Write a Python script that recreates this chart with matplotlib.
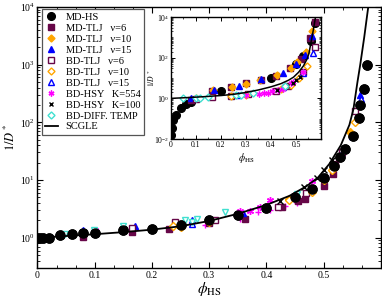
import matplotlib
matplotlib.use('Agg')
import matplotlib.pyplot as plt
from matplotlib.lines import Line2D
from matplotlib.ticker import MultipleLocator, LogLocator, NullFormatter

plt.rcParams['font.family'] = ['Liberation Serif', 'DejaVu Serif']
plt.rcParams['mathtext.fontset'] = 'stix'

# SCGLE theory curve
scgle_phi = [0, 0.05, 0.1, 0.15, 0.2, 0.25, 0.3, 0.35, 0.4, 0.44, 0.47, 0.49, 0.51,
             0.53, 0.545, 0.552, 0.559, 0.564, 0.571, 0.575, 0.578, 0.58]
scgle_val = [1.0, 1.07, 1.15, 1.25, 1.38, 1.58, 1.95, 2.6, 3.7, 5.3, 7.8, 11, 19,
             40, 90, 167, 490, 1000, 3000, 6000, 10000, 20000]

# main panel data
mdhs_phi = [0, 0.005, 0.01, 0.02, 0.04, 0.06, 0.08, 0.1, 0.15, 0.2, 0.25, 0.3, 0.35,
            0.4, 0.45, 0.48, 0.5, 0.518, 0.529, 0.538, 0.552, 0.561, 0.564, 0.57, 0.576]
mdhs_val = [1, 1, 1, 1, 1.1, 1.14, 1.19, 1.22, 1.34, 1.43, 1.67, 1.99, 2.5,
            3.25, 5.0, 7.0, 10.8, 17.6, 25, 35, 58, 120, 196, 380, 1000]
md6_phi = [0.08, 0.165, 0.23, 0.3, 0.363, 0.427, 0.456, 0.468, 0.5, 0.517, 0.52]
md6_val = [1.03, 1.25, 1.43, 1.79, 2.1, 3.4, 4.4, 4.7, 7.9, 12.7, 18.8]
md10_phi = [0.1, 0.25, 0.44, 0.5, 0.546]
md10_val = [1.25, 1.55, 4.6, 10, 68]
md15_phi = [0.08, 0.17, 0.27, 0.36, 0.448, 0.53, 0.55, 0.564]
md15_val = [1.34, 1.59, 1.99, 2.7, 5.2, 29, 59, 300]
bd6_phi = [0.1, 0.165, 0.24, 0.31, 0.42, 0.47, 0.532, 0.555]
bd6_val = [1.2, 1.45, 1.85, 2.0, 3.4, 6.0, 30, 157]
bd10_phi = [0.237, 0.3, 0.44, 0.48, 0.514, 0.555]
bd10_val = [1.6, 1.85, 4.5, 6.1, 15, 101]
bd15_phi = [0.27, 0.45, 0.53, 0.565]
bd15_val = [1.75, 5.0, 27, 250]
hsy554_phi = [0.1, 0.354, 0.371, 0.389, 0.406, 0.48]
hsy554_val = [1.35, 2.96, 2.96, 3.38, 4.5, 9.7]
hsy554p_phi = [0.293, 0.354, 0.386, 0.406, 0.433, 0.453]
hsy554p_val = [1.68, 2.1, 2.77, 3.07, 3.5, 4.0]
hsy100_phi = [0.424, 0.465, 0.488, 0.5, 0.515]
hsy100_val = [4.4, 7.5, 11, 15, 22]
diff_phi = [0.048, 0.099, 0.15, 0.258, 0.27, 0.278, 0.328, 0.453]
diff_val = [1.14, 1.37, 1.57, 1.99, 1.9, 2.07, 2.84, 5.7]

# inset data
in_mdhs_phi = [0, 0.005, 0.01, 0.02, 0.04, 0.06, 0.08, 0.2, 0.4, 0.5, 0.53, 0.56, 0.576]
in_mdhs_val = [0.015, 0.035, 0.085, 0.16, 0.32, 0.52, 0.7, 2.4, 10.4, 50, 120, 700, 4900]
in_md6_phi = [0.08, 0.165, 0.24, 0.3, 0.36, 0.42, 0.476, 0.52, 0.556, 0.575]
in_md6_val = [0.85, 2.3, 3.8, 5.4, 8, 12, 30, 90, 900, 5500]
in_md10_phi = [0.1, 0.17, 0.243, 0.3, 0.356, 0.425, 0.48, 0.503, 0.54, 0.565]
in_md10_val = [1.0, 2.5, 3.5, 5, 8, 13.6, 32, 63, 200, 2000]
in_md15_phi = [0.08, 0.172, 0.273, 0.36, 0.45, 0.5, 0.536, 0.565]
in_md15_val = [1.1, 2.6, 4.0, 8.5, 17.6, 50, 135, 1200]
in_bd6_phi = [0.1, 0.165, 0.24, 0.31, 0.42, 0.47, 0.53, 0.576]
in_bd6_val = [0.95, 1.15, 1.3, 1.6, 2.4, 4, 20, 350]
in_bd10_phi = [0.24, 0.3, 0.44, 0.48, 0.514, 0.546]
in_bd10_val = [1.3, 1.5, 3.0, 4.5, 10, 40]
in_bd15_phi = [0.27, 0.45, 0.53, 0.57]
in_bd15_val = [1.4, 3.5, 18, 170]
in_hsy554_phi = [0.1, 0.3, 0.354, 0.371, 0.389, 0.406, 0.43, 0.45, 0.48, 0.489, 0.53]
in_hsy554_val = [1.0, 1.4, 1.7, 1.8, 1.9, 2.2, 2.6, 3.0, 5.5, 6.6, 20]
in_hsy100_phi = [0.424, 0.465, 0.488, 0.5, 0.515]
in_hsy100_val = [2.5, 4.0, 5.5, 8, 11]
in_diff_phi = [0.05, 0.1, 0.115, 0.15, 0.26, 0.28, 0.33, 0.456]
in_diff_val = [1.0, 1.0, 1.05, 1.15, 1.4, 1.5, 1.8, 4.0]

maroon = '#670748'
orange = '#ffa500'
turq = '#40e0d0'
ast = (6, 2, 0)

labels = ['MD-HS', 'MD-TLJ   \u03bd=6', 'MD-TLJ   \u03bd=10', 'MD-TLJ   \u03bd=15',
          'BD-TLJ   \u03bd=6', 'BD-TLJ   \u03bd=10', 'BD-TLJ   \u03bd=15',
          'BD-HSY   K=554', 'BD-HSY   K=100', 'BD-DIFF. TEMP', 'SCGLE']

# (main x, main y, inset x, inset y, marker, face, edge, size)
series = [
    (mdhs_phi, mdhs_val, in_mdhs_phi, in_mdhs_val, 'o', 'k', 'k', 6.5),
    (md6_phi, md6_val, in_md6_phi, in_md6_val, 's', maroon, maroon, 4.5),
    (md10_phi, md10_val, in_md10_phi, in_md10_val, 'D', orange, orange, 4.2),
    (md15_phi, md15_val, in_md15_phi, in_md15_val, '^', 'blue', 'blue', 5),
    (bd6_phi, bd6_val, in_bd6_phi, in_bd6_val, 's', 'white', maroon, 4.5),
    (bd10_phi, bd10_val, in_bd10_phi, in_bd10_val, 'D', 'white', orange, 4.2),
    (bd15_phi, bd15_val, in_bd15_phi, in_bd15_val, '^', 'white', 'blue', 5),
    (hsy554_phi, hsy554_val, in_hsy554_phi, in_hsy554_val, ast, 'magenta', 'magenta', 5),
    (hsy100_phi, hsy100_val, in_hsy100_phi, in_hsy100_val, 'x', 'k', 'k', 4),
    (diff_phi, diff_val, in_diff_phi, in_diff_val, 'D', 'white', turq, 4.2),
]

fig = plt.figure(figsize=(3.82, 2.99), dpi=100)
ax = fig.add_axes([0.098, 0.104, 0.899, 0.873])

ax.plot(scgle_phi, scgle_val, 'k-', lw=1.3, zorder=5)
for i, (x, y, xi, yi, m, fc, ec, ms) in enumerate(series):
    mm = 'v' if i == 9 else m
    ax.plot(x, y, ls='none', marker=mm, mfc=fc, mec=ec, ms=ms, mew=1.0, zorder=3)
ax.plot(hsy554p_phi, hsy554p_val, ls='none', marker='+', mec='magenta', ms=5, mew=1.0)
# MD-HS on top
ax.plot(mdhs_phi, mdhs_val, ls='none', marker='o', mfc='k', mec='k', ms=6.5, zorder=4)

ax.set_yscale('log')
ax.set_xlim(0, 0.6)
ax.set_ylim(0.3, 1e4)
ax.xaxis.set_minor_locator(MultipleLocator(0.1 / 3))
ax.set_xticks([0, 0.1, 0.2, 0.3, 0.4, 0.5])
ax.set_xticklabels(['0', '0.1', '0.2', '0.3', '0.4', '0.5'])
ax.yaxis.set_major_locator(LogLocator(base=10, numticks=10))
ax.yaxis.set_minor_locator(LogLocator(base=10, subs=range(2, 10), numticks=20))
ax.yaxis.set_minor_formatter(NullFormatter())
ax.tick_params(which='both', direction='in', top=True, right=True, labelsize=7, pad=2)
ax.tick_params(which='major', length=4, width=0.8)
ax.tick_params(which='minor', length=2, width=0.6)
ax.set_xlabel(r'$\phi_{\rm HS}$', fontsize=11, labelpad=0)
ax.set_ylabel(r'$1/D^*$', fontsize=9, labelpad=1)
for s in ax.spines.values():
    s.set_linewidth(1.0)

handles = []
for i, (x, y, xi, yi, m, fc, ec, ms) in enumerate(series):
    handles.append(Line2D([], [], ls='none', marker=m, mfc=fc, mec=ec,
                          ms=ms * 0.85, mew=1.0))
handles.append(Line2D([], [], color='k', lw=1.3))
leg = ax.legend(handles, labels, loc='upper left', bbox_to_anchor=(0.012, 0.99),
                borderaxespad=0, fontsize=7.5, labelspacing=0.16, handlelength=1.3,
                handletextpad=0.7, borderpad=0.3, fancybox=False, framealpha=1)
leg.get_frame().set_edgecolor('#555555')
leg.get_frame().set_linewidth(0.9)

# inset
axi = fig.add_axes([0.4476, 0.535, 0.3927, 0.408])
axi.plot(scgle_phi, scgle_val, 'k-', lw=1.1, zorder=5)
for x, y, xi, yi, m, fc, ec, ms in series:
    axi.plot(xi, yi, ls='none', marker=m, mfc=fc, mec=ec, ms=ms * 0.85, mew=1.0, zorder=3)
axi.set_yscale('log')
axi.set_xlim(0, 0.6)
axi.set_ylim(1e-2, 1e4)
axi.set_xticks([0, 0.1, 0.2, 0.3, 0.4, 0.5])
axi.set_xticklabels(['0', '0.1', '0.2', '0.3', '0.4', '0.5'])
axi.xaxis.set_minor_locator(MultipleLocator(0.05))
axi.set_yticks([1e-2, 1e0, 1e2, 1e4])
axi.yaxis.set_minor_locator(LogLocator(base=10, subs=range(1, 10), numticks=20))
axi.yaxis.set_minor_formatter(NullFormatter())
axi.tick_params(which='both', direction='in', top=True, right=True, labelsize=5.5, pad=1.5)
axi.tick_params(which='major', length=3, width=0.7)
axi.tick_params(which='minor', length=1.5, width=0.5)
axi.set_xlabel(r'$\phi_{\rm HS}$', fontsize=7, labelpad=1)
axi.set_ylabel(r'$1/D^*$', fontsize=5.5, labelpad=-2)
for s in axi.spines.values():
    s.set_linewidth(1.0)

fig.savefig('out.png', dpi=100)
